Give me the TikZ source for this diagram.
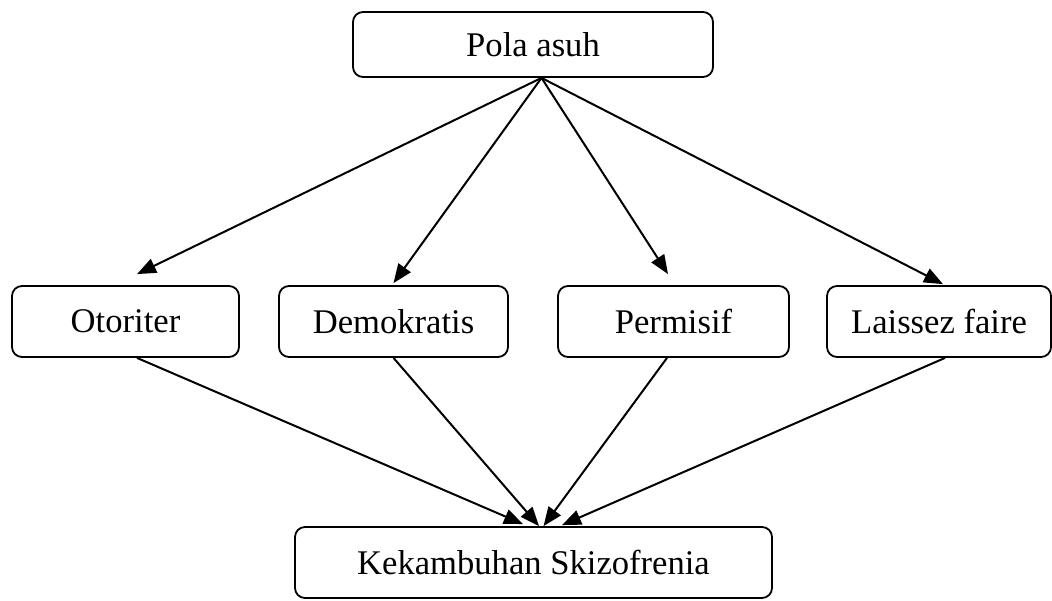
\documentclass[tikz,border=0pt]{standalone}
\usepackage{fontspec}
\setmainfont{Liberation Serif}
\usetikzlibrary{arrows.meta}

\begin{document}
\begin{tikzpicture}[x=0.5pt,y=-0.5pt,
    kotak/.style ={rectangle, rounded corners=5pt, draw, line width=0.9pt, inner sep=0pt, minimum height=35.5pt, font=\fontsize{17.3}{20}\selectfont},
    panah/.style ={line width=1pt, -{Triangle[length=9.5pt,width=7.5pt]}}]
   \useasboundingbox (0,0) rectangle (1052,600);
   \node[kotak, minimum width=180pt, minimum height=32.5pt] (pola) at (533,44.5) {Pola asuh};
   \node[kotak, minimum width=113.5pt] (oto)  at (125.5,321.5) {Otoriter};
   \node[kotak, minimum width=114.5pt] (demo) at (393.5,321.5) {Demokratis};
   \node[kotak, minimum width=115.5pt] (perm) at (673.5,321.5) {Permisif};
   \node[kotak, minimum width=112pt]   (lais) at (939,321.5)   {Laissez faire};
   \node[kotak, minimum width=238.5pt] (kek)  at (533.5,562.5) {Kekambuhan Skizofrenia};
   \coordinate (pusat) at ([xshift=4.25pt]pola.south);
   \draw[panah] (pusat) -- ([xshift=5.75pt,yshift=5.5pt]oto.north);
   \draw[panah] (pusat) -- ([yshift=1pt]demo.north);
   \draw[panah] (pusat) -- ([xshift=-2.75pt,yshift=5.5pt]perm.north);
   \draw[panah] (pusat) -- ([xshift=2pt,yshift=0.5pt]lais.north);
   \draw[panah] ([xshift=5.75pt]oto.south) -- ([xshift=-5.25pt,yshift=1pt]kek.north);
   \draw[panah] (demo.south) -- ([xshift=2.75pt]kek.north);
   \draw[panah] ([xshift=-3.25pt]perm.south) -- ([xshift=5pt]kek.north);
   \draw[panah] ([xshift=3pt]lais.south) -- ([xshift=14.25pt,yshift=0.5pt]kek.north);
 \end{tikzpicture}
\end{document}
